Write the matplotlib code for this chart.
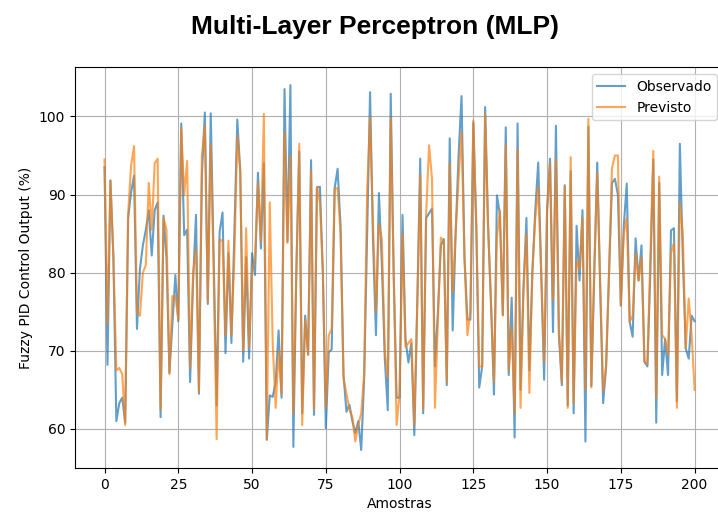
import matplotlib
matplotlib.use("Agg")
import matplotlib.pyplot as plt
import numpy as np

observado = [
93.5, 68.2, 91.8, 82, 61, 63.3, 64, 60.8, 87, 90.3,
92.4, 72.8, 80.5, 83.5, 85.5, 88, 82.2, 88, 89, 61.5,
87.3, 81.8, 67.2, 73.5, 79.7, 73.8, 99.1, 84.8, 85.5, 66,
78.8, 87.4, 64.5, 92.5, 100.5, 76, 100.4, 82, 63, 85.2,
87.7, 69.7, 82.5, 71, 85, 99.6, 93, 68.6, 82, 69,
82.5, 79.7, 92.8, 83.1, 94, 58.6, 64.3, 64.1, 66, 72.6,
64, 103.5, 84, 104, 57.7, 80, 95.5, 62, 74.5, 69.5,
94.4, 61.8, 90.9, 91, 80, 60.1, 69.8, 70.2, 90.8, 93.3,
86, 66.9, 62.2, 63.1, 61, 59.5, 61, 57.3, 66.5, 85,
103.1, 84, 72, 90.2, 81, 69, 62.4, 102.9, 80, 64,
64, 87.4, 71.5, 68.5, 71, 59.2, 76, 94.6, 62, 87,
87.6, 88.2, 68, 75, 83.5, 84.3, 65.6, 97.2, 72.6, 85,
95, 102.6, 82, 74, 74, 99.2, 86, 65.3, 68, 101.2,
86, 76, 64.4, 89.9, 87.5, 74.6, 98.6, 66.9, 76.8, 58.9,
99.1, 65, 78, 87, 67.5, 80, 88, 94.1, 80, 66.3,
88, 94.6, 72.4, 98.8, 72, 65.6, 91.2, 63, 93, 62,
86, 79, 88, 58.4, 98.7, 65.5, 80, 94.1, 78, 63.3,
68, 80, 91.5, 92, 90, 75.8, 86, 91.4, 73.7, 71.8,
84.4, 79, 83.5, 68.6, 68, 80, 94.5, 60.8, 91.5, 66.9,
71.5, 66.9, 85.4, 85.7, 63.5, 96.5, 82, 70.3, 69, 74.5,
73.8]

previsto = [
94.5, 73.5, 91.8, 82, 67.5, 67.8, 67, 60.5, 87.5, 93.7,
96.2, 75, 74.5, 80, 81, 91.5, 85.5, 94, 94.6, 62.5,
87, 85.5, 67, 77, 77, 74, 98.5, 90, 94.3, 67.8,
80, 83, 64.8, 95, 98.8, 76.3, 96.5, 80, 58.7, 84.3,
84, 72, 84.1, 72, 82, 97.5, 93, 70, 85.7, 70.5,
80, 82, 91.5, 84, 100.3, 58.7, 89, 71, 62.7, 70,
64.5, 98, 83.8, 95, 62, 80, 96.5, 60.5, 74, 69.5,
93, 62.5, 91, 89, 80, 62.7, 72, 72.8, 90.8, 90.8,
85, 66.5, 64.5, 62.5, 61.5, 58.4, 60.5, 62, 67, 90.3,
99.9, 86, 75, 86.3, 84.3, 70, 66.5, 99.8, 80, 60.5,
64.5, 85, 70.5, 71, 71.5, 60.5, 76, 92.5, 62.5, 87.5,
96.3, 92, 62.7, 74, 84.5, 84, 66, 94, 77.5, 85,
92, 98, 82, 72, 75, 99.5, 86, 68, 68, 100.3,
86, 76, 66, 84.5, 88, 74.5, 96.3, 67.5, 73, 62,
95.8, 62.7, 78, 85, 64.6, 80, 87, 91, 80, 68.5,
88, 94, 76.5, 94.5, 73, 66, 91, 62.7, 94.8, 63.3,
81.5, 80.5, 87, 65, 99.7, 65.3, 81, 92.8, 79, 64.8,
68, 80, 93.4, 95, 95, 75.8, 85, 87, 73.7, 74.5,
82.5, 79, 82, 68.6, 68.3, 82, 95.6, 64, 92.3, 72,
71.5, 69.5, 82.5, 83.8, 62.7, 89, 85, 70.3, 76.7, 72,
65]

amostras = np.arange(len(observado))

fig = plt.figure(figsize=(7.18, 5.13), dpi=100)
ax = fig.add_axes([0.1045, 0.0877, 0.904, 0.7813])

ax.plot(amostras, observado, color="tab:blue", alpha=0.7, linewidth=1.5, label="Observado")
ax.plot(amostras, previsto, color="tab:orange", alpha=0.7, linewidth=1.5, label="Previsto")

ax.set_xlim(-10, 210)
ax.set_ylim(55.0, 106.3)
ax.set_xticks([0, 25, 50, 75, 100, 125, 150, 175, 200])
ax.set_yticks([60, 70, 80, 90, 100])
ax.grid(True)
ax.set_xlabel("Amostras")
ax.set_ylabel("Fuzzy PID Control Output (%)")
ax.legend(loc="upper right")

fig.text(0.522, 0.947, "Multi-Layer Perceptron (MLP)", ha="center", va="center",
         fontsize=19, fontweight="bold", family="Liberation Sans")

fig.savefig("out.png", dpi=100)
